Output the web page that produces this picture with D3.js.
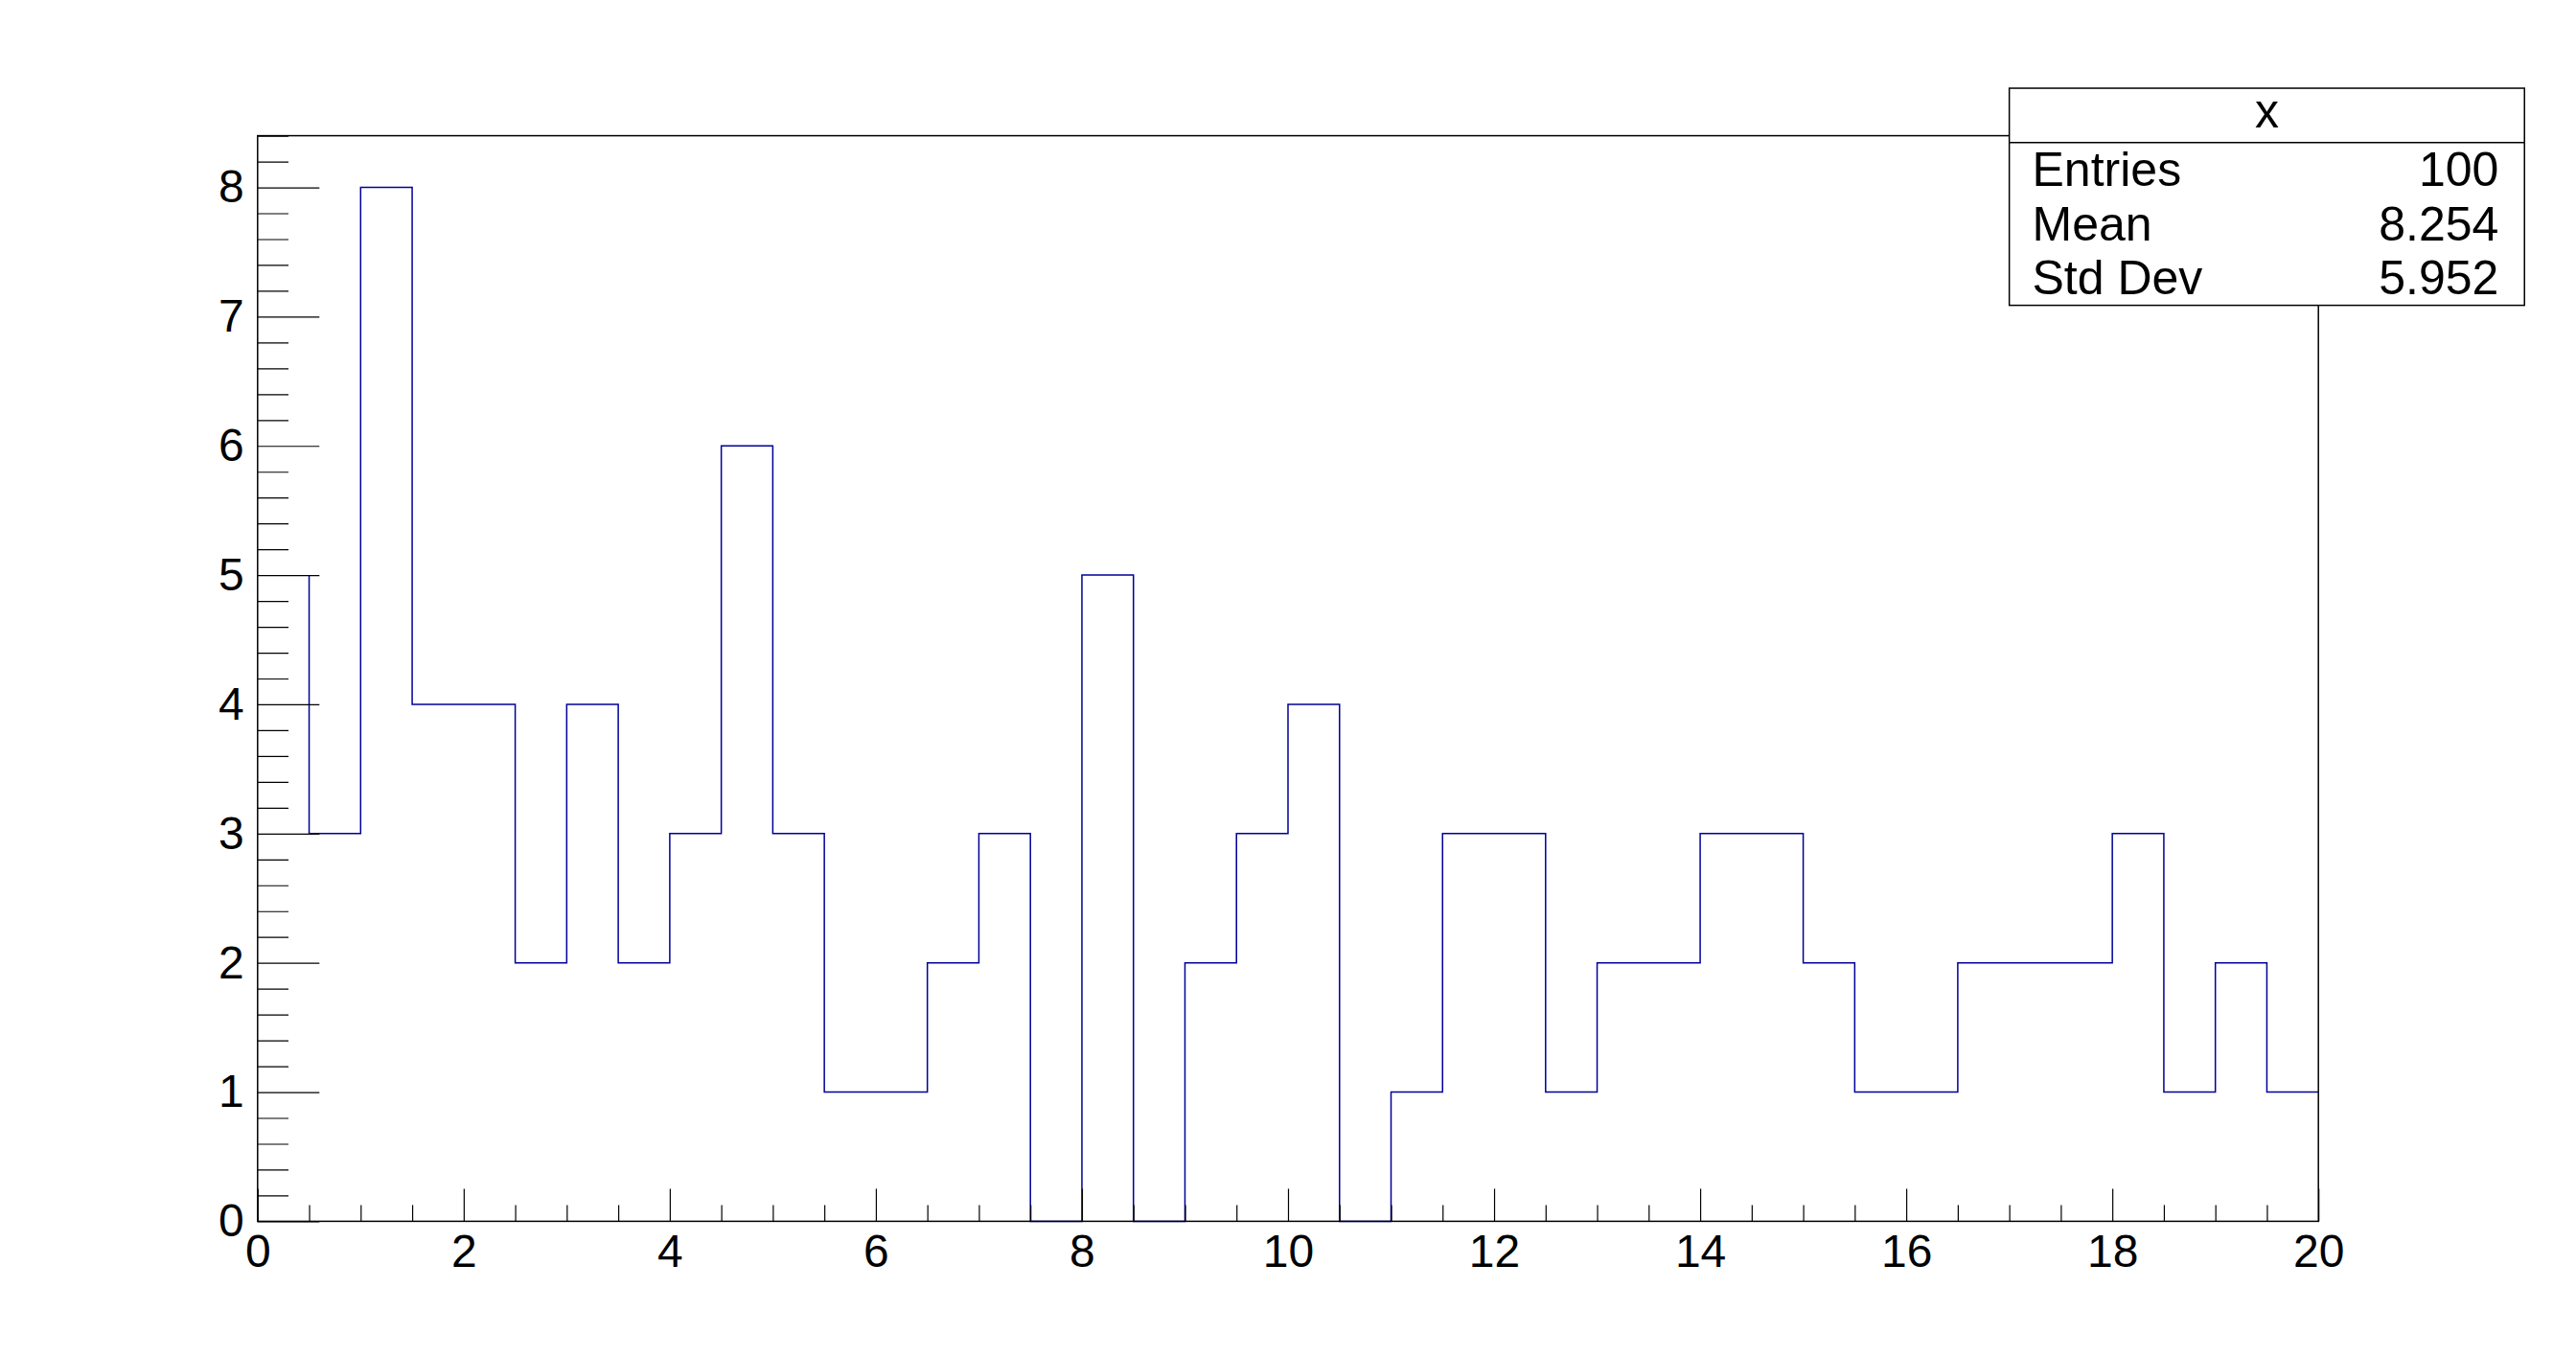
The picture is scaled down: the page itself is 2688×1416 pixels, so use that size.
<!DOCTYPE html>
<html>
<head>
<meta charset="utf-8">
<script src="https://cdn.jsdelivr.net/npm/d3@7"></script>
<style>
  html, body { margin: 0; padding: 0; background: #fff; }
  svg { display: block; }
  text { font-family: "Liberation Sans", Arial, Helvetica, sans-serif; fill: #000; }
</style>
</head>
<body>
<svg id="canvas" width="2688" height="1416"></svg>
<script>
// histogram "x": 40 bins between 0 and 20
let xRange = [0, 20];
let binCounts = [0, 3, 8, 4, 4, 2, 4, 2, 3, 6,
                 3, 1, 1, 2, 3, 0, 5, 0, 2, 3,
                 4, 0, 1, 3, 3, 1, 2, 2, 3, 3,
                 2, 1, 1, 2, 2, 2, 3, 1, 2, 1];
// the little vertical stroke drawn at the start of the outline
let leadStroke = [[0.5, 5], [0.5, 3]];
let yMaxValue = 8.4;

let xMajorTicks = [0, 2, 4, 6, 8, 10, 12, 14, 16, 18, 20];
let yMajorTicks = [0, 1, 2, 3, 4, 5, 6, 7, 8];

let statTitle = "x";
let statNames = ["Entries", "Mean", "Std Dev"];
let statValues = ["100", "8.254", "5.952"];

let W = 2688, H = 1416;
let padL = 0.1 * W, padR = 0.9 * W, padT = 0.1 * H, padB = 0.9 * H;

let canvas = d3.select("#canvas");

let x = d3.scaleLinear().domain(xRange).range([padL, padR]);
let y = d3.scaleLinear().domain([0, yMaxValue]).range([padB, padT]);

let nBins = binCounts.length;
let binWidth = (xRange[1] - xRange[0]) / nBins;

// step outline, starting from the first filled bin
let stepPts = leadStroke.slice();
let first = binCounts.findIndex(c => c > 0);
for (let i = first; i < nBins; i++) {
    let x0 = xRange[0] + i * binWidth, x1 = x0 + binWidth;
    stepPts.push([x0, binCounts[i]]);
    stepPts.push([x1, binCounts[i]]);
}

let line = d3.line().x(d => x(d[0])).y(d => y(d[1]));

canvas.append("path")
    .attr("d", line(stepPts))
    .attr("fill", "none")
    .attr("stroke", "#000099")
    .attr("stroke-width", 1.5);

// y axis: major + minor ticks pointing into the frame
let yMinor = d3.range(0, yMaxValue + 1e-9, 0.2).filter(v => Math.abs(v - Math.round(v)) > 1e-6);
let tickLenY = 0.03 * (padR - padL);
let tickLenX = 0.03 * (padB - padT);

let gy = canvas.append("g").attr("transform", "translate(" + padL + ",0)");
gy.call(d3.axisLeft(y).tickValues(yMajorTicks).tickSizeInner(-tickLenY).tickSizeOuter(0)
        .tickPadding(14).tickFormat(d3.format("d")));
gy.append("g").call(d3.axisLeft(y).tickValues(yMinor).tickSizeInner(-tickLenY / 2).tickSizeOuter(0).tickFormat(""));

let xMinor = d3.range(0, 20.0001, 0.5).filter(v => xMajorTicks.indexOf(v) < 0);
let gx = canvas.append("g").attr("transform", "translate(0," + padB + ")");
gx.call(d3.axisBottom(x).tickValues(xMajorTicks).tickSizeInner(-tickLenX).tickSizeOuter(0)
        .tickPadding(14).tickFormat(d3.format("d")));
gx.append("g").call(d3.axisBottom(x).tickValues(xMinor).tickSizeInner(-tickLenX / 2).tickSizeOuter(0).tickFormat(""));

canvas.selectAll(".domain").remove();
canvas.selectAll(".tick line").attr("stroke", "#000").attr("stroke-width", 1.2);
canvas.selectAll(".tick text").attr("font-size", 48)
    .style("font-family", "'Liberation Sans', Arial, sans-serif").attr("fill", "#000");

// frame
canvas.append("rect")
    .attr("x", padL).attr("y", padT)
    .attr("width", padR - padL).attr("height", padB - padT)
    .attr("fill", "none").attr("stroke", "#000").attr("stroke-width", 1.5);

// stats box
let bx0 = 0.78 * W, bx1 = 0.98 * W, by0 = (1 - 0.935) * H, by1 = (1 - 0.775) * H;
let rowH = (by1 - by0) / (statNames.length + 1);
let margin = 0.05 * (bx1 - bx0);
let fs = 50;
let stats = canvas.append("g");
stats.append("rect")
    .attr("x", bx0).attr("y", by0).attr("width", bx1 - bx0).attr("height", by1 - by0)
    .attr("fill", "#fff").attr("stroke", "#000").attr("stroke-width", 1.5);
stats.append("line")
    .attr("x1", bx0).attr("x2", bx1).attr("y1", by0 + rowH).attr("y2", by0 + rowH)
    .attr("stroke", "#000").attr("stroke-width", 1.5);
stats.append("text")
    .attr("x", (bx0 + bx1) / 2).attr("y", by0 + rowH / 2 + 13)
    .attr("text-anchor", "middle").attr("font-size", fs)
    .text(statTitle);
statNames.forEach((name, i) => {
    let base = by0 + rowH * (i + 1.5) + 17;
    stats.append("text").attr("x", bx0 + margin - 3).attr("y", base)
        .attr("font-size", fs).text(name);
    stats.append("text").attr("x", bx1 - margin).attr("y", base)
        .attr("text-anchor", "end").attr("font-size", fs).text(statValues[i]);
});
</script>
</body>
</html>
